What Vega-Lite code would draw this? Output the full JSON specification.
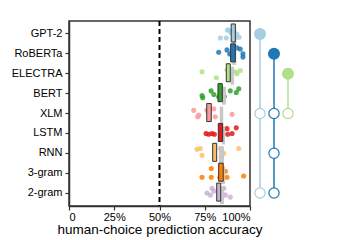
{
  "$schema": "https://vega.github.io/schema/vega-lite/v6.json",
  "padding": {"left": 3, "top": 19, "right": 0, "bottom": 0},
  "spacing": 0,
  "bounds": "flush",
  "config": {
    "font": "Liberation Sans",
    "view": {"stroke": null},
    "axis": {
      "labelFont": "Liberation Sans", "titleFont": "Liberation Sans",
      "labelColor": "#000", "titleColor": "#000", "labelFontSize": 11,
      "domainColor": "#333", "domainWidth": 1.5, "tickColor": "#333",
      "tickSize": 4, "tickWidth": 1.2, "grid": false
    }
  },
  "resolve": {"scale": {"x": "independent", "y": "independent", "color": "independent"}},
  "datasets": {
    "points": [
      {"model": "GPT-2", "acc": 83.6, "j": 0.5}, {"model": "GPT-2", "acc": 86.9, "j": 0.5}, {"model": "GPT-2", "acc": 87.5, "j": -0.5}, {"model": "GPT-2", "acc": 92.8, "j": 0}, {"model": "GPT-2", "acc": 94.0, "j": 0.4}, {"model": "GPT-2", "acc": 92.0, "j": 0.4}, {"model": "GPT-2", "acc": 88.0, "j": -0.5}, {"model": "GPT-2", "acc": 89.5, "j": -0.2},
      {"model": "RoBERTa", "acc": 82.7, "j": -0.2}, {"model": "RoBERTa", "acc": 87.3, "j": -0.5}, {"model": "RoBERTa", "acc": 88.8, "j": 0}, {"model": "RoBERTa", "acc": 90.2, "j": 0.1}, {"model": "RoBERTa", "acc": 92.8, "j": -0.75}, {"model": "RoBERTa", "acc": 94.6, "j": -0.6}, {"model": "RoBERTa", "acc": 96.1, "j": 0}, {"model": "RoBERTa", "acc": 96.1, "j": 0.4},
      {"model": "ELECTRA", "acc": 73.5, "j": -0.25}, {"model": "ELECTRA", "acc": 81.4, "j": 0.5}, {"model": "ELECTRA", "acc": 87.3, "j": -0.5}, {"model": "ELECTRA", "acc": 89.1, "j": -0.25}, {"model": "ELECTRA", "acc": 91.9, "j": -0.25}, {"model": "ELECTRA", "acc": 94.6, "j": -0.4}, {"model": "ELECTRA", "acc": 92.8, "j": 0}, {"model": "ELECTRA", "acc": 88.2, "j": 0.1},
      {"model": "BERT", "acc": 73.5, "j": 0.25}, {"model": "BERT", "acc": 73.9, "j": 0.5}, {"model": "BERT", "acc": 78.5, "j": -0.35}, {"model": "BERT", "acc": 80.0, "j": 0.1}, {"model": "BERT", "acc": 82.7, "j": 0.4}, {"model": "BERT", "acc": 85.8, "j": 0.35}, {"model": "BERT", "acc": 89.1, "j": -0.35}, {"model": "BERT", "acc": 92.4, "j": -0.15}, {"model": "BERT", "acc": 93.8, "j": -0.6},
      {"model": "XLM", "acc": 68.9, "j": -0.4}, {"model": "XLM", "acc": 71.7, "j": 0.2}, {"model": "XLM", "acc": 71.1, "j": 0.4}, {"model": "XLM", "acc": 76.2, "j": -0.4}, {"model": "XLM", "acc": 80.0, "j": -0.6}, {"model": "XLM", "acc": 80.8, "j": 0.4}, {"model": "XLM", "acc": 90.1, "j": 0.1},
      {"model": "LSTM", "acc": 75.7, "j": 0}, {"model": "LSTM", "acc": 77.2, "j": 0.1}, {"model": "LSTM", "acc": 79.0, "j": 0}, {"model": "LSTM", "acc": 80.3, "j": 0.1}, {"model": "LSTM", "acc": 87.3, "j": -0.6}, {"model": "LSTM", "acc": 87.7, "j": 0.1}, {"model": "LSTM", "acc": 90.1, "j": 0}, {"model": "LSTM", "acc": 92.4, "j": -0.7},
      {"model": "RNN", "acc": 70.7, "j": -0.5}, {"model": "RNN", "acc": 72.5, "j": -0.6}, {"model": "RNN", "acc": 73.5, "j": 0.25}, {"model": "RNN", "acc": 83.6, "j": -0.6}, {"model": "RNN", "acc": 84.5, "j": 0.25}, {"model": "RNN", "acc": 85.5, "j": 0}, {"model": "RNN", "acc": 93.8, "j": -0.6}, {"model": "RNN", "acc": 84.0, "j": 0.5},
      {"model": "3-gram", "acc": 78.6, "j": -0.6}, {"model": "3-gram", "acc": 73.5, "j": 0.5}, {"model": "3-gram", "acc": 78.6, "j": 0.5}, {"model": "3-gram", "acc": 83.3, "j": 0.5}, {"model": "3-gram", "acc": 86.4, "j": -0.25}, {"model": "3-gram", "acc": 87.3, "j": 0.5}, {"model": "3-gram", "acc": 96.5, "j": 0.35}, {"model": "3-gram", "acc": 84.0, "j": 0},
      {"model": "2-gram", "acc": 76.2, "j": 0}, {"model": "2-gram", "acc": 78.1, "j": 0.25}, {"model": "2-gram", "acc": 79.0, "j": -0.6}, {"model": "2-gram", "acc": 80.0, "j": -0.25}, {"model": "2-gram", "acc": 85.5, "j": -0.6}, {"model": "2-gram", "acc": 86.4, "j": 0.25}, {"model": "2-gram", "acc": 89.1, "j": 0.5}, {"model": "2-gram", "acc": 84.5, "j": 0}
    ],
    "boxes": [
      {"model": "GPT-2", "lo": 89.6, "hi": 91.9, "glo": 90.2, "ghi": 92.4},
      {"model": "RoBERTa", "lo": 89.3, "hi": 91.9, "glo": 90.2, "ghi": 92.4},
      {"model": "ELECTRA", "lo": 86.9, "hi": 89.1, "glo": 89.3, "ghi": 91.2},
      {"model": "BERT", "lo": 82.3, "hi": 84.7, "glo": 84.5, "ghi": 86.7},
      {"model": "XLM", "lo": 76.1, "hi": 78.6, "glo": 83.3, "ghi": 85.2},
      {"model": "LSTM", "lo": 82.5, "hi": 84.9, "glo": 84.5, "ghi": 86.2},
      {"model": "RNN", "lo": 79.4, "hi": 81.6, "glo": 82.9, "ghi": 85.6},
      {"model": "3-gram", "lo": 82.7, "hi": 85.2, "glo": 84.0, "ghi": 86.2},
      {"model": "2-gram", "lo": 81.6, "hi": 83.8, "glo": 83.4, "ghi": 85.6}
    ],
    "lines": [
      {"col": "GPT-2", "from": "GPT-2", "to": "2-gram"},
      {"col": "RoBERTa", "from": "RoBERTa", "to": "2-gram"},
      {"col": "ELECTRA", "from": "ELECTRA", "to": "XLM"}
    ],
    "dots": [
      {"col": "GPT-2", "model": "GPT-2", "kind": "best"},
      {"col": "GPT-2", "model": "XLM", "kind": "worse"},
      {"col": "GPT-2", "model": "2-gram", "kind": "worse"},
      {"col": "RoBERTa", "model": "RoBERTa", "kind": "best"},
      {"col": "RoBERTa", "model": "XLM", "kind": "worse"},
      {"col": "RoBERTa", "model": "RNN", "kind": "worse"},
      {"col": "RoBERTa", "model": "2-gram", "kind": "worse"},
      {"col": "ELECTRA", "model": "ELECTRA", "kind": "best"},
      {"col": "ELECTRA", "model": "XLM", "kind": "worse"}
    ]
  },
  "hconcat": [
    {
      "width": 181,
      "height": 185,
      "view": {"stroke": "#333", "strokeWidth": 1.5},
      "encoding": {
        "y": {
          "field": "model", "type": "nominal",
          "scale": {"domain": ["GPT-2", "RoBERTa", "ELECTRA", "BERT", "XLM", "LSTM", "RNN", "3-gram", "2-gram"], "paddingInner": 0, "paddingOuter": 0.15},
          "axis": {"title": null, "minExtent": 65, "maxExtent": 65, "labelPadding": 3}
        }
      },
      "layer": [
        {
          "data": {"name": "points"},
          "mark": {"type": "circle", "size": 26, "opacity": 0.85},
          "encoding": {
            "x": {
              "field": "acc", "type": "quantitative",
              "scale": {"domain": [0, 100], "nice": false},
              "axis": {"values": [0, 25, 50, 75, 100], "labelExpr": "datum.value == 0 ? '0' : datum.value + '%'", "title": "human-choice prediction accuracy", "titleFontSize": 13.5, "titleFontWeight": "normal", "titlePadding": 0, "labelPadding": 1}
            },
            "yOffset": {"field": "j", "type": "quantitative", "scale": {"domain": [-1, 1], "range": [2, 18]}},
            "color": {
              "field": "model", "type": "nominal",
              "scale": {"domain": ["GPT-2", "RoBERTa", "ELECTRA", "BERT", "XLM", "LSTM", "RNN", "3-gram", "2-gram"], "range": ["#a6cee3", "#1f78b4", "#b2df8a", "#33a02c", "#fb9a99", "#e31a1c", "#fdbf6f", "#ff7f00", "#cab2d6"]},
              "legend": null
            }
          }
        },
        {
          "data": {"name": "boxes"},
          "mark": {"type": "rect", "color": "#c8c8c8", "yOffset": 3},
          "encoding": {
            "x": {"field": "glo", "type": "quantitative"},
            "x2": {"field": "ghi"}
          }
        },
        {
          "data": {"name": "boxes"},
          "mark": {"type": "rect", "stroke": "#333", "strokeWidth": 1},
          "encoding": {
            "x": {"field": "lo", "type": "quantitative"},
            "x2": {"field": "hi"},
            "color": {"field": "model", "type": "nominal", "legend": null}
          }
        },
        {
          "data": {"values": [{"v": 50}]},
          "mark": {"type": "rule", "strokeDash": [5, 3], "strokeWidth": 2, "color": "#000"},
          "encoding": {"x": {"field": "v", "type": "quantitative"}, "y": null}
        }
      ]
    },
    {
      "width": 80,
      "height": 185,
      "layer": [
        {
          "data": {"name": "lines"},
          "mark": {"type": "rule", "strokeWidth": 1.5},
          "encoding": {
            "x": {"field": "col", "type": "nominal", "scale": {"type": "point", "domain": ["GPT-2", "RoBERTa", "ELECTRA"], "range": [10, 38], "padding": 0}, "axis": null},
            "y": {"field": "from", "type": "nominal", "scale": {"domain": ["GPT-2", "RoBERTa", "ELECTRA", "BERT", "XLM", "LSTM", "RNN", "3-gram", "2-gram"], "paddingInner": 0, "paddingOuter": 0.15}, "axis": null},
            "y2": {"field": "to"},
            "color": {"field": "col", "type": "nominal", "scale": {"domain": ["GPT-2", "RoBERTa", "ELECTRA"], "range": ["#a6cee3", "#1f78b4", "#b2df8a"]}, "legend": null}
          }
        },
        {
          "data": {"name": "dots"},
          "transform": [{"filter": "datum.kind == 'worse'"}],
          "mark": {"type": "point", "shape": "circle", "filled": false, "fill": "white", "fillOpacity": 1, "size": 105, "strokeWidth": 1.2, "opacity": 1},
          "encoding": {
            "x": {"field": "col", "type": "nominal"},
            "y": {"field": "model", "type": "nominal"},
            "stroke": {"field": "col", "type": "nominal", "scale": {"domain": ["GPT-2", "RoBERTa", "ELECTRA"], "range": ["#a6cee3", "#1f78b4", "#b2df8a"]}, "legend": null}
          }
        },
        {
          "data": {"name": "dots"},
          "transform": [{"filter": "datum.kind == 'best'"}],
          "mark": {"type": "circle", "size": 145, "opacity": 1},
          "encoding": {
            "x": {"field": "col", "type": "nominal"},
            "y": {"field": "model", "type": "nominal"},
            "color": {"field": "col", "type": "nominal", "legend": null}
          }
        }
      ]
    }
  ]
}
